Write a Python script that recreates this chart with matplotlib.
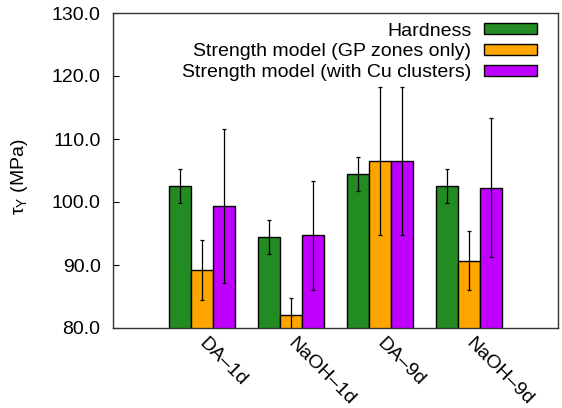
import matplotlib
matplotlib.use("Agg")
import matplotlib.pyplot as plt
import numpy as np

categories = ["DA\u20131d", "NaOH\u20131d", "DA\u20139d", "NaOH\u20139d"]
series_names = ["Hardness", "Strength model (GP zones only)", "Strength model (with Cu clusters)"]
hardness = [102.6, 94.5, 104.4, 102.6]
hardness_err = [2.7, 2.7, 2.7, 2.7]
gp_only = [89.2, 82.1, 106.5, 90.7]
gp_only_err = [4.8, 2.7, 11.8, 4.7]
cu_clusters = [99.4, 94.7, 106.5, 102.3]
cu_clusters_err = [12.2, 8.6, 11.8, 11.1]
yticks = [80, 90, 100, 110, 120, 130]

colors = ["#228B22", "#FFA500", "#C000FF"]

plt.rcParams['font.family'] = ['Liberation Sans', 'DejaVu Sans']
plt.rcParams['font.size'] = 14

fig = plt.figure(figsize=(5.62, 4.08), dpi=100)
ax = fig.add_axes([113/562, 80/408, 445/562, 315/408])

x = np.arange(1, len(categories) + 1)
w = 0.25
vals = [hardness, gp_only, cu_clusters]
errs = [hardness_err, gp_only_err, cu_clusters_err]
for i, (v, e, c, n) in enumerate(zip(vals, errs, colors, series_names)):
    ax.bar(x + (i - 1) * w, v, width=w, color=c, edgecolor='black', linewidth=1.0,
           label=n, zorder=2)
    ax.errorbar(x + (i - 1) * w, v, yerr=e, fmt='none', ecolor='black',
                elinewidth=0.9, capsize=1.5, capthick=0.9, zorder=3)

ax.set_xlim(0, 5)
ax.set_ylim(80, 130)
ax.set_yticks(yticks)
ax.set_yticklabels([f"{t:.1f}" for t in yticks])
ax.tick_params(axis='y', direction='in', length=4, width=0.8, pad=9, labelsize=14)
ax.set_xticks(x)
ax.set_xticklabels(categories, rotation=-45, ha='left', va='center',
                   rotation_mode='anchor', fontsize=14)
ax.tick_params(axis='x', length=0, pad=9)
for s in ax.spines.values():
    s.set_linewidth(1.0)
    s.set_color('#333333')

ax.set_ylabel(r'$\mathregular{\tau_Y}$ (MPa)', fontsize=14)
ax.yaxis.set_label_coords(-0.187, 0.48)

leg = ax.legend(loc='upper right', bbox_to_anchor=(1 - 7/445, 1 + 4/315),
                markerfirst=False, frameon=False,
                handlelength=2.75, handleheight=0.45, handletextpad=0.65,
                labelspacing=0.2, borderaxespad=0.3, fontsize=14)

fig.savefig("out.png", dpi=100)
